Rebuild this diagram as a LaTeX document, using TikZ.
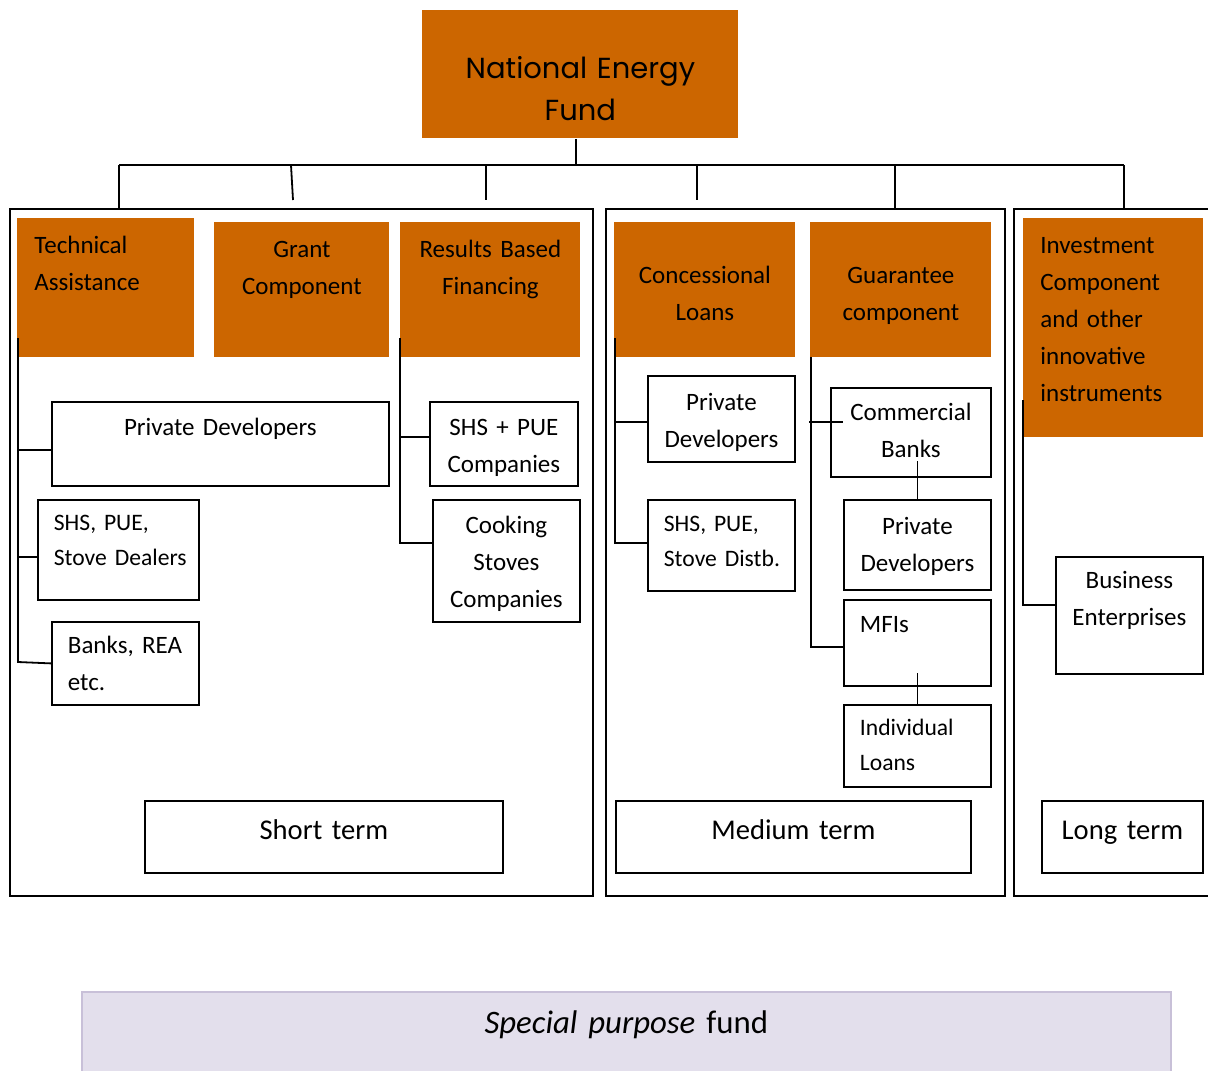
\documentclass[tikz,border=0pt]{standalone}
\usepackage{fontspec}
\setmainfont{Carlito}
\newfontfamily\titlefont{Poppins}
\definecolor{fundorange}{RGB}{204,102,0}
\definecolor{spfill}{RGB}{227,223,236}
\definecolor{spline}{RGB}{200,192,216}
\tikzset{
  fund/.style={fill=fundorange, inner sep=0pt, anchor=north west, align=center},
  sub/.style={draw, line width=0.9pt, inner sep=0pt, anchor=north west, align=center},
  lsub/.style={sub, align=left, inner xsep=8pt},
  frame/.style={draw, line width=0.9pt, inner sep=0pt, anchor=north west},
  term/.style={sub, font=\fontsize{14.3}{18}\selectfont},
  link/.style={line width=0.9pt},
}
\begin{document}
\begin{tikzpicture}[x=0.5pt,y=-0.5pt,font=\fontsize{12.5}{18.5}\selectfont]
		\useasboundingbox (0,0) rectangle (1208,1070);
		
		\node[fund, text width=158pt, text height=34pt, text depth=30pt, font=\titlefont\fontsize{14.5}{21}\selectfont] (nef) at (422,10) {National Energy\\Fund};
		
		% the three terms
		\node[frame, minimum width=291.5pt, minimum height=343.5pt] (short) at (9,208) {};
		\node[frame, minimum width=199.5pt, minimum height=343.5pt] (medium) at (605,208) {};
		\node[frame, minimum width=105pt, minimum height=343.5pt] (long) at (1013,208) {};
		
		\node[fund, align=left, inner xsep=8.5pt, text width=71.5pt, text height=17.5pt, text depth=52pt] (ta) at (17,218) {Technical\\Assistance};
		\node[fund, text width=87.5pt, text height=17.5pt, text depth=50pt] (gr) at (214,222) {Grant\\Component};
		\node[fund, text width=90pt, text height=17.5pt, text depth=50pt] (rbf) at (400,222) {Results Based\\Financing};
		\node[fund, text width=90.5pt, text height=30.5pt, text depth=37pt] (cl) at (614,222) {Concessional\\Loans};
		\node[fund, text width=90.5pt, text height=30.5pt, text depth=37pt] (gc) at (810,222) {Guarantee\\component};
		\node[fund, align=left, inner xsep=8.5pt, text width=73pt, text height=17.5pt, text depth=92pt] (inv) at (1023,218) {Investment\\Component\\and other\\innovative\\instruments};
		
		% short term
		\node[sub, text width=168.5pt, text height=17pt, text depth=25pt] (pd1) at (51,401) {Private Developers};
		\node[lsub, text width=64.5pt, text height=15.5pt, text depth=34.5pt, font=\fontsize{11.8}{17.5}\selectfont] (sd) at (37,499) {SHS, PUE,\\\mbox{Stove Dealers}};
		\node[lsub, text width=57.5pt, text height=16pt, text depth=25.5pt] (bk) at (51,621) {Banks, REA\\etc.};
		\node[sub, text width=74pt, text height=17pt, text depth=25pt] (sp) at (429,401) {SHS + PUE\\Companies};
		\node[sub, text width=73.5pt, text height=17pt, text depth=44pt] (cs) at (432,499) {Cooking\\Stoves\\Companies};
		\node[term, text width=179pt, text height=19.5pt, text depth=16.5pt] (st) at (144,800) {Short term};
		
		% medium term
		\node[sub, text width=73.5pt, text height=17.5pt, text depth=25.5pt] (pd2) at (647,375) {Private\\Developers};
		\node[lsub, text width=57.5pt, text height=16pt, text depth=29.5pt, font=\fontsize{11.8}{17.5}\selectfont] (sd2) at (647,499) {SHS, PUE,\\\mbox{Stove Distb.}};
		\node[sub, text width=80pt, text height=16.5pt, text depth=28pt] (cb) at (830,387) {Commercial\\Banks};
		\node[sub, text width=73.5pt, text height=17.5pt, text depth=27.5pt] (pd3) at (843,499) {Private\\Developers};
		\node[lsub, text width=57.5pt, text height=16.5pt, text depth=26.5pt] (mfi) at (843,599) {MFIs};
		\node[lsub, text width=57.5pt, text height=15.5pt, text depth=25.5pt, font=\fontsize{11.8}{17.5}\selectfont] (il) at (843,704) {Individual\\Loans};
		\node[term, text width=177.5pt, text height=19.5pt, text depth=16.5pt] (mt) at (615,800) {Medium term};
		
		% long term
		\node[sub, text width=73.5pt, text height=16pt, text depth=42.5pt] (be) at (1055,556) {Business\\Enterprises};
		\node[term, text width=80.5pt, text height=19.5pt, text depth=16.5pt] (lt) at (1041,800) {Long term};
		
		\node[draw=spline, fill=spfill, line width=0.8pt, inner sep=0pt, anchor=north west, align=center, text width=544.5pt, text height=21pt, text depth=21pt, font=\fontsize{16.4}{19}\selectfont] (spf) at (81,991) {\textit{Special purpose} fund};
		
		% tree from the fund
		\coordinate (bus) at (576,165);
		\draw[link] (bus |- nef.south) -- (bus);
		\draw[link] (119,165) -- (1124,165);
		\foreach \x in {119,895,1124} \draw[link] (\x,165) -- (\x,208);
		\foreach \x in {486,697} \draw[link] (\x,165) -- (\x,200);
		\draw[link] (291,165) -- (293,200);
		
		\draw[link] (18,338) -- (18,662) -- (bk.west);
		\draw[link] (18,450) -- (pd1.west |- 18,450);
		\draw[link] (18,557) -- (sd.west |- 18,557);
		\draw[link] (400,338) -- (400,543) -- (cs.west |- 400,543);
		\draw[link] (400,437) -- (sp.west |- 400,437);
		
		\draw[link] (615,338) -- (615,543) -- (sd2.west |- 615,543);
		\draw[link] (615,422) -- (pd2.west |- 615,422);
		\draw[link] (811,357) -- (811,647) -- (mfi.west |- 811,647);
		\draw[link] (809,422) -- (843,422);
		\draw[link] (pd3.north) -- ++(0,-38);
		\draw[link] (il.north) -- ++(0,-31);
		
		\draw[link] (1023,400) -- (1023,605) -- (be.west |- 1023,605);
	\end{tikzpicture}
\end{document}
